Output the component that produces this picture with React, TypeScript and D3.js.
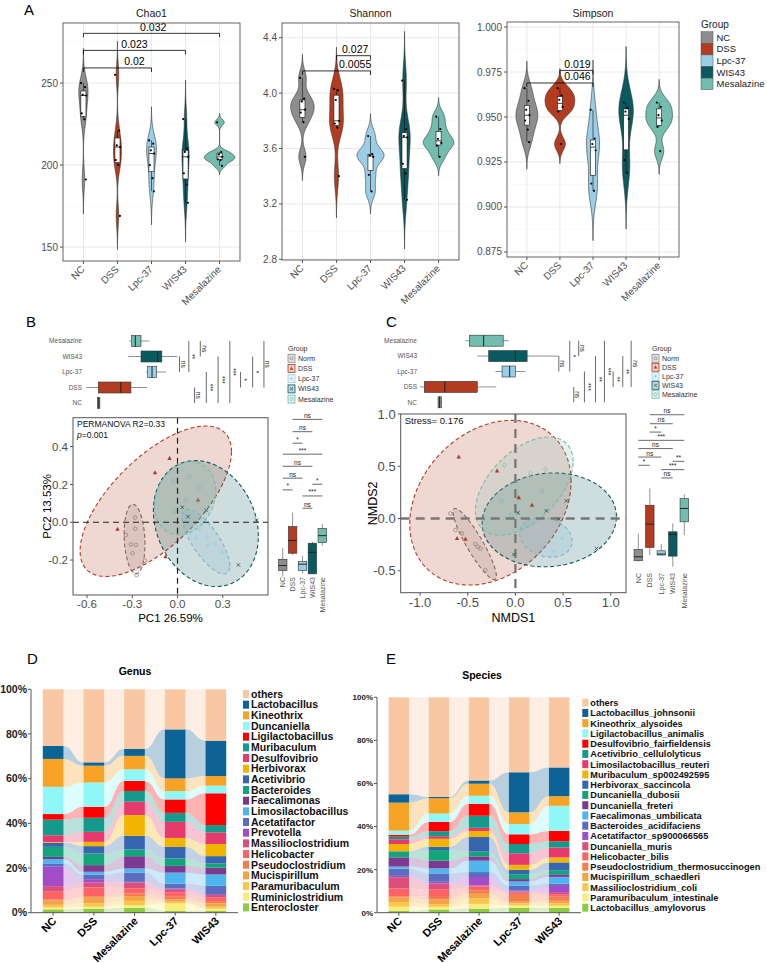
import React, { useEffect, useRef } from 'react';
import * as d3 from 'd3';

const WIDTH = 767;
const HEIGHT = 963;
const FONT = "'Liberation Sans', Arial, Helvetica, sans-serif";

const groups = ['NC', 'DSS', 'Lpc-37', 'WIS43', 'Mesalazine'];
const groupColors = ['#8d8d8d', '#b33c20', '#9bcde6', '#0a5b61', '#72bdaf'];
const legendNames = ['Norm', 'DSS', 'Lpc-37', 'WIS43', 'Mesalazine'];
const groupShapes = ['circle', 'triangle', 'plus', 'cross', 'diamond'];

// ---- alpha diversity, one value per mouse ----
const chao1Values = [
  [250, 247.5, 242.8, 242.4, 231.5, 227.9, 191.2],
  [255, 221, 212, 211, 203, 200, 169],
  [215, 213, 209, 207, 200, 192, 184],
  [228, 210, 208, 205, 195, 188, 177],
  [226, 208, 206.5, 205, 203.5, 203, 199.5],
];
const shannonValues = [
  [4.11, 3.96, 3.94, 3.88, 3.86, 3.79, 3.54],
  [4.03, 4.02, 3.95, 3.8, 3.78, 3.75, 3.4],
  [3.69, 3.56, 3.55, 3.54, 3.41, 3.29],
  [4.09, 3.74, 3.69, 3.68, 3.49, 3.42, 3.23],
  [3.83, 3.74, 3.67, 3.64, 3.62, 3.54],
];
const simpsonValues = [
  [0.966, 0.959, 0.954, 0.951, 0.948, 0.943, 0.936],
  [0.966, 0.962, 0.9596, 0.9556, 0.953, 0.935],
  [0.954, 0.938, 0.935, 0.9315, 0.913, 0.909],
  [0.958, 0.955, 0.953, 0.949, 0.926, 0.919],
  [0.958, 0.9557, 0.951, 0.948, 0.9445, 0.931],
];

// wilcoxon p-values; `at` = label centre in group units
const chao1Tests = [
  { from: 0, to: 2, y: 259.2, p: '0.02', at: 1.5 },
  { from: 0, to: 3, y: 269.9, p: '0.023', at: 1.5 },
  { from: 0, to: 4, y: 280.3, p: '0.032', at: 2.05 },
];
const shannonTests = [
  { from: 0, to: 2, y: 4.16, p: '0.0055', at: 1.55 },
  { from: 1, to: 2, y: 4.27, p: '0.027', at: 1.55 },
];
const simpsonTests = [
  { from: 0, to: 2, y: 0.9689, p: '0.046', at: 1.53 },
  { from: 1, to: 2, y: 0.9759, p: '0.019', at: 1.53 },
];

// ---- beta diversity ----
const pcoaPoints = [
  [[-0.282, 0.025], [-0.28, -0.035], [-0.342, -0.067], [-0.309, -0.117], [-0.276, -0.12], [-0.298, -0.164], [-0.216, -0.203], [-0.271, -0.28]],
  [[-0.053, 0.338], [-0.149, 0.262], [-0.398, -0.037], [0.136, 0.118], [-0.08, -0.182]],
  [[0.147, -0.04], [0.196, -0.08], [0.247, -0.115], [0.202, -0.12], [0.298, -0.16], [0.124, -0.085]],
  [[0.191, 0.062], [0.404, -0.226], [0.031, 0.079], [0.069, 0.03], [0.524, 0.012]],
  [[-0.031, 0.215], [0.08, 0.241], [0.147, 0.183], [0.058, 0.118], [-0.02, 0.056], [0.136, 0.109]],
];
// [cx, cy, half-width x, half-width y, correlation]
const pcoaEllipses = [
  [-0.285, -0.089, 0.069, 0.184, -0.15],
  [-0.144, 0.111, 0.502, 0.398, 0.66],
  [0.189, -0.103, 0.158, 0.171, -0.75],
  [0.188, -0.007, 0.348, 0.333, -0.2],
  [0.05, 0.127, 0.203, 0.194, 0.2],
];
// [min, q1, median, q3, max]
const pcoaPC1Box = [
  [-0.533, -0.531, -0.522, -0.515, -0.513],
  [-0.605, -0.525, -0.376, -0.309, -0.202],
  [-0.209, -0.198, -0.169, -0.138, -0.076],
  [-0.327, -0.242, -0.131, -0.104, 0.0],
  [-0.32, -0.304, -0.28, -0.242, -0.187],
];
const pcoaPC2Box = [
  [-0.288, -0.256, -0.229, -0.196, -0.138],
  [-0.173, -0.164, -0.097, -0.023, 0.051],
  [-0.27, -0.256, -0.222, -0.208, -0.178],
  [-0.273, -0.273, -0.159, -0.111, -0.102],
  [-0.125, -0.108, -0.071, -0.032, -0.009],
];
// [group a, group b, position on the score axis, label]
const pcoaPC1Tests: [number, number, number, string][] = [
  [3, 2, 0.013, 'ns'], [4, 2, 0.075, '**'], [1, 0, 0.113, 'ns'], [4, 3, 0.151, 'ns'], [2, 0, 0.191, '***'],
  [3, 0, 0.269, '***'], [4, 0, 0.347, '***'], [2, 1, 0.418, '*'], [3, 1, 0.498, '*'], [4, 1, 0.573, 'ns'],
];
const pcoaPC2Tests: [number, number, number, string][] = [
  [1, 4, 0.544, 'ns'], [1, 3, 0.479, 'ns'], [1, 2, 0.418, '*'], [0, 4, 0.36, '***'], [0, 3, 0.296, 'ns'],
  [0, 2, 0.233, 'ns'], [0, 1, 0.171, '*'], [3, 4, 0.201, '*'], [2, 4, 0.139, '***'], [2, 3, 0.074, 'ns'],
];

const nmdsPoints = [
  [[-0.682, 0.048], [-0.629, -0.111], [-0.559, -0.143], [-0.42, -0.245], [-0.395, -0.271], [-0.367, -0.287], [-0.315, -0.494]],
  [[-0.594, 0.589], [-0.192, 0.455], [0.035, 0.2], [0.175, 0.127], [-0.612, -0.191], [-0.524, -0.197]],
  [[0.227, -0.08], [0.35, -0.127], [0.49, -0.191], [0.185, -0.2], [0.297, -0.207], [0.402, -0.318]],
  [[0.535, 0.169], [0.325, 0.073], [0.028, 0.054], [0.455, -0.006], [0.85, -0.287], [-0.017, -0.344]],
  [[-0.115, 0.51], [0.157, 0.43], [0.315, 0.471], [0.28, 0.264], [-0.147, 0.169], [-0.045, 0.032]],
];
const nmdsEllipses = [
  [-0.427, -0.244, 0.227, 0.34, -0.9],
  [-0.262, 0.151, 0.846, 0.788, 0.26],
  [0.32, -0.18, 0.275, 0.19, -0.2],
  [0.355, -0.013, 0.705, 0.449, 0.07],
  [0.093, 0.31, 0.512, 0.47, 0.5],
];
const nmds1Box = [
  [-0.815, -0.811, -0.795, -0.777, -0.773],
  [-1.0, -0.955, -0.74, -0.4, -0.2],
  [-0.21, -0.14, -0.06, 0.0, 0.105],
  [-0.4, -0.28, 0.0, 0.123, 0.455],
  [-0.525, -0.483, -0.333, -0.128, -0.07],
];
const nmds2Box = [
  [-0.414, -0.404, -0.366, -0.296, -0.143],
  [-0.35, -0.277, -0.054, 0.127, 0.287],
  [-0.35, -0.35, -0.34, -0.309, -0.245],
  [-0.462, -0.36, -0.15, -0.127, -0.048],
  [-0.159, -0.032, 0.096, 0.191, 0.232],
];
const nmds1Tests: [number, number, number, string][] = [
  [3, 2, 0.455, 'ns'], [4, 2, 0.57, '*'], [1, 0, 0.612, 'ns'], [4, 3, 0.664, 'ns'], [2, 0, 0.724, '***'],
  [3, 0, 0.84, '**'], [4, 0, 0.934, '***'], [2, 1, 1.025, '**'], [3, 1, 1.126, '**'], [4, 1, 1.214, 'ns'],
];
const nmds2Tests: [number, number, number, string][] = [
  [1, 4, 0.993, 'ns'], [1, 3, 0.907, 'ns'], [1, 2, 0.827, '*'], [0, 4, 0.748, '***'], [0, 3, 0.669, 'ns'],
  [0, 2, 0.588, 'ns'], [0, 1, 0.509, '*'], [3, 4, 0.547, '**'], [2, 4, 0.468, '***'], [2, 3, 0.388, 'ns'],
];

// ---- relative abundance (%), listed top of stack first ----
const samples = ['NC', 'DSS', 'Mesalazine', 'Lpc-37', 'WIS43'];
const taxaColors = [
  '#f9c7a1', '#0c6396', '#f7a325', '#8ff7f7', '#fe0000', '#14998b', '#e63a6c', '#f1b400', '#3766b0', '#14a479',
  '#7b3a8f', '#4eb5ef', '#5b6dbf', '#a24cc8', '#dc4f7b', '#fe6363', '#f27e4b', '#f4a445', '#f8c64a', '#fcec7a', '#8ccb45',
];
const genusTaxa = [
  'others', 'Lactobacillus', 'Kineothrix', 'Duncaniella', 'Ligilactobacillus', 'Muribaculum', 'Desulfovibrio',
  'Herbivorax', 'Acetivibrio', 'Bacteroides', 'Faecalimonas', 'Limosilactobacillus', 'Acetatifactor', 'Prevotella',
  'Massilioclostridium', 'Helicobacter', 'Pseudoclostridium', 'Mucispirillum', 'Paramuribaculum', 'Ruminiclostridium',
  'Enterocloster',
];
const genusNC = [25.4, 5.8, 12.5, 12.2, 2.5, 7.0, 3.0, 0.3, 1.9, 4.5, 1.0, 1.9, 1.5, 8.7, 2.5, 3.4, 0.6, 1.9, 1.2, 0.8, 1.5];
const genusDSS = [32.7, 1.5, 7.5, 10.9, 4.9, 6.3, 4.5, 1.9, 3.3, 5.2, 3.0, 1.2, 2.1, 1.5, 2.2, 3.9, 0.7, 2.5, 1.5, 0.9, 1.8];
const genusMesalazine = [26.7, 3.1, 6.0, 5.2, 4.5, 4.8, 6.0, 9.3, 6.1, 3.0, 5.5, 1.8, 4.2, 0.3, 2.7, 2.2, 1.2, 2.1, 1.9, 1.2, 2.2];
const genusLpc37 = [17.9, 21.9, 5.7, 3.7, 6.0, 4.0, 7.2, 4.0, 5.2, 3.3, 3.0, 4.9, 2.2, 0.3, 1.5, 1.9, 1.2, 1.0, 0.7, 3.3, 0.9];
const genusWIS43 = [23.0, 15.8, 4.3, 3.4, 14.2, 3.3, 5.2, 5.4, 3.3, 1.9, 3.0, 5.1, 3.7, 0.4, 1.2, 1.5, 1.0, 1.5, 0.9, 0.9, 0.9];

const speciesTaxa = [
  'others', 'Lactobacillus_johnsonii', 'Kineothrix_alysoides', 'Ligilactobacillus_animalis',
  'Desulfovibrio_fairfieldensis', 'Acetivibrio_cellulolyticus', 'Limosilactobacillus_reuteri',
  'Muribaculum_sp002492595', 'Herbivorax_saccincola', 'Duncaniella_dubosii', 'Duncaniella_freteri',
  'Faecalimonas_umbilicata', 'Bacteroides_acidifaciens', 'Acetatifactor_sp900066565', 'Duncaniella_muris',
  'Helicobacter_bilis', 'Pseudoclostridium_thermosuccinogen', 'Mucispirillum_schaedleri',
  'Massilioclostridium_coli', 'Paramuribaculum_intestinale', 'Lactobacillus_amylovorus',
];
const speciesNC = [45.0, 3.9, 13.0, 1.9, 0.9, 1.2, 2.2, 3.4, 0.3, 2.5, 4.3, 0.9, 3.4, 0.6, 5.3, 3.7, 0.3, 2.2, 2.2, 1.9, 0.9];
const speciesDSS = [46.1, 0.6, 7.1, 3.9, 4.3, 2.3, 1.2, 3.7, 1.5, 4.9, 3.6, 2.3, 3.9, 0.8, 2.8, 3.4, 1.2, 2.2, 1.2, 1.2, 1.5];
const speciesMesalazine = [38.7, 1.5, 5.6, 3.7, 5.6, 5.6, 1.5, 2.8, 6.8, 2.2, 2.0, 5.3, 2.3, 3.9, 0.5, 1.9, 1.5, 2.2, 2.5, 2.2, 1.9];
const speciesLpc37 = [34.8, 18.6, 5.4, 4.8, 4.5, 4.3, 5.4, 2.3, 2.0, 2.3, 1.1, 2.0, 2.2, 0.5, 0.5, 0.6, 3.6, 0.8, 0.9, 1.1, 2.3];
const speciesWIS43 = [32.5, 13.3, 4.5, 11.6, 4.8, 2.9, 4.6, 2.3, 3.6, 1.9, 1.2, 3.1, 1.1, 3.2, 0.6, 1.2, 1.9, 1.2, 1.1, 0.9, 2.3];

// horizontal spread of the dots inside each violin (fraction of a group step)
const jitter = [-0.07, 0.05, -0.02, 0.08, -0.05, 0.03, 0.07, -0.08];

type Sel = d3.Selection<any, any, any, any>;

function text(g: Sel, x: number, y: number, s: string, size: number, o: any = {}) {
  const t = g.append('text')
    .attr('x', x).attr('y', y)
    .attr('font-size', size)
    .attr('font-family', FONT)
    .attr('fill', o.fill || '#000')
    .attr('text-anchor', o.anchor || 'start')
    .text(s);
  if (o.weight) t.attr('font-weight', o.weight);
  if (o.rotate) t.attr('transform', `rotate(${o.rotate},${x},${y})`);
  return t;
}

const fmtNum = (digits: number) => (v: number) => d3.format(`.${digits}f`)(v).replace('−', '-');

// gaussian kernel density, bw.nrd0, tails extended by 3 bandwidths
function density(values: number[]) {
  const s = values.slice().sort(d3.ascending);
  const n = s.length;
  const sd = d3.deviation(s) || 1;
  const iqr = (d3.quantileSorted(s, 0.75) as number) - (d3.quantileSorted(s, 0.25) as number);
  const lo = Math.min(sd, iqr / 1.34) || sd;
  const bw = 0.9 * lo * Math.pow(n, -0.2);
  const a = s[0] - 3 * bw;
  const b = s[n - 1] + 3 * bw;
  return d3.range(0, 201).map((i) => {
    const v = a + ((b - a) * i) / 200;
    const d = d3.mean(s, (p) => Math.exp(-0.5 * ((v - p) / bw) ** 2)) as number;
    return [v, d / (bw * Math.sqrt(2 * Math.PI))] as [number, number];
  });
}

function drawAlpha(root: Sel, p: any) {
  const [l, r, t, b] = p.box;
  const g = root.append('g');
  const x = d3.scalePoint<string>().domain(groups).range([l, r]).padding(0.6);
  const step = x.step();
  const gx = d3.scaleLinear().domain([0, groups.length - 1]).range([x(groups[0]) as number, x(groups[groups.length - 1]) as number]);
  const y = d3.scaleLinear().domain(p.domain).range([b, t]);
  const fmt = fmtNum(p.digits);

  p.minor.forEach((v: number) => {
    g.append('line').attr('x1', l).attr('x2', r).attr('y1', y(v)).attr('y2', y(v)).attr('stroke', '#f2f2f2').attr('stroke-width', 0.5);
  });
  p.ticks.forEach((v: number) => {
    g.append('line').attr('x1', l).attr('x2', r).attr('y1', y(v)).attr('y2', y(v)).attr('stroke', '#e6e6e6').attr('stroke-width', 0.9);
    g.append('line').attr('x1', l - 3).attr('x2', l).attr('y1', y(v)).attr('y2', y(v)).attr('stroke', '#555');
    text(g, l - 5, y(v) + 3.5, fmt(v), 10, { anchor: 'end', fill: '#4d4d4d' });
  });
  groups.forEach((gr) => {
    const cx = x(gr) as number;
    g.append('line').attr('x1', cx).attr('x2', cx).attr('y1', t).attr('y2', b).attr('stroke', '#e6e6e6').attr('stroke-width', 0.9);
    g.append('line').attr('x1', cx).attr('x2', cx).attr('y1', b).attr('y2', b + 3).attr('stroke', '#555');
    text(g, cx + 2, b + 9, gr, 10, { anchor: 'end', fill: '#4d4d4d', rotate: -45 });
  });

  const dens = p.values.map(density);
  const maxD = d3.max(dens, (d: [number, number][]) => d3.max(d, (e) => e[1])) as number;
  const half = d3.scaleLinear().domain([0, maxD]).range([0, step * 0.45]);

  dens.forEach((d: [number, number][], i: number) => {
    const cx = x(groups[i]) as number;
    const area = d3.area<[number, number]>()
      .y((e) => y(e[0]))
      .x0((e) => cx - half(e[1]))
      .x1((e) => cx + half(e[1]));
    g.append('path').attr('d', area(d) as string).attr('fill', groupColors[i]).attr('stroke', '#333').attr('stroke-width', 0.6);

    const s = p.values[i].slice().sort(d3.ascending);
    const q1 = d3.quantileSorted(s, 0.25) as number;
    const med = d3.quantileSorted(s, 0.5) as number;
    const q3 = d3.quantileSorted(s, 0.75) as number;
    const iqr = q3 - q1;
    const wLo = d3.min(s.filter((v: number) => v >= q1 - 1.5 * iqr)) as number;
    const wHi = d3.max(s.filter((v: number) => v <= q3 + 1.5 * iqr)) as number;
    const bw = step * 0.15;
    g.append('line').attr('x1', cx).attr('x2', cx).attr('y1', y(wLo)).attr('y2', y(q1)).attr('stroke', '#111').attr('stroke-width', 0.6);
    g.append('line').attr('x1', cx).attr('x2', cx).attr('y1', y(q3)).attr('y2', y(wHi)).attr('stroke', '#111').attr('stroke-width', 0.6);
    g.append('rect').attr('x', cx - bw / 2).attr('y', y(q3)).attr('width', bw).attr('height', y(q1) - y(q3))
      .attr('fill', '#fff').attr('stroke', '#111').attr('stroke-width', 0.6);
    g.append('line').attr('x1', cx - bw / 2).attr('x2', cx + bw / 2).attr('y1', y(med)).attr('y2', y(med)).attr('stroke', '#111').attr('stroke-width', 0.8);

    p.values[i].forEach((v: number, j: number) => {
      g.append('circle').attr('cx', cx + jitter[j % jitter.length] * step).attr('cy', y(v)).attr('r', 1.1).attr('fill', '#000');
    });
  });

  p.tests.forEach((tst: any) => {
    const x1 = gx(tst.from);
    const x2 = gx(tst.to);
    const yy = y(tst.y);
    g.append('path').attr('d', `M${x1},${yy + 4}V${yy}H${x2}V${yy + 4}`).attr('fill', 'none').attr('stroke', '#000').attr('stroke-width', 0.8);
    text(g, gx(tst.at), yy - 2.5, tst.p, 10.5, { anchor: 'middle' });
  });

  g.append('rect').attr('x', l).attr('y', t).attr('width', r - l).attr('height', b - t)
    .attr('fill', 'none').attr('stroke', '#555').attr('stroke-width', 0.9);
  text(g, (l + r) / 2, 17, p.title, 10.5, { anchor: 'middle', fill: '#1a1a1a' });
}

function drawShape(g: Sel, kind: string, cx: number, cy: number, color: string, k = 1) {
  const s = 2.2 * k;
  if (kind === 'circle') {
    g.append('circle').attr('cx', cx).attr('cy', cy).attr('r', 1.8 * k).attr('fill', 'none').attr('stroke', color).attr('stroke-width', 0.7);
  } else if (kind === 'triangle') {
    g.append('path').attr('d', `M${cx},${cy - 2.5 * k}L${cx + 2.2 * k},${cy + 1.6 * k}L${cx - 2.2 * k},${cy + 1.6 * k}Z`).attr('fill', color);
  } else if (kind === 'plus') {
    g.append('path').attr('d', `M${cx - s},${cy}H${cx + s}M${cx},${cy - s}V${cy + s}`).attr('stroke', color).attr('stroke-width', 0.8);
  } else if (kind === 'cross') {
    const c = s * 0.8;
    g.append('path').attr('d', `M${cx - c},${cy - c}L${cx + c},${cy + c}M${cx - c},${cy + c}L${cx + c},${cy - c}`).attr('stroke', color).attr('stroke-width', 0.8);
  } else {
    g.append('path').attr('d', `M${cx},${cy - 2.4 * k}L${cx + 2 * k},${cy}L${cx},${cy + 2.4 * k}L${cx - 2 * k},${cy}Z`)
      .attr('fill', 'none').attr('stroke', color).attr('stroke-width', 0.7);
  }
}

function drawOrdination(root: Sel, o: any) {
  const [l, r, t, b] = o.box;
  const g = root.append('g');
  const x = d3.scaleLinear().domain(o.xDomain).range([l, r]);
  const y = d3.scaleLinear().domain(o.yDomain).range([b, t]);
  const fmt = fmtNum(1);
  const clipId = `clip-${o.id}`;
  g.append('clipPath').attr('id', clipId).append('rect').attr('x', l).attr('y', t).attr('width', r - l).attr('height', b - t);
  const plot = g.append('g').attr('clip-path', `url(#${clipId})`);
  const line = d3.line<number[]>().x((d) => x(d[0])).y((d) => y(d[1]));

  o.ellipses.forEach((e: number[], i: number) => {
    const pts = d3.range(0, 121).map((k) => {
      const a = (k / 120) * Math.PI * 2;
      return [e[0] + e[2] * Math.cos(a), e[1] + e[3] * (e[4] * Math.cos(a) + Math.sqrt(1 - e[4] * e[4]) * Math.sin(a))];
    });
    plot.append('path').attr('d', line(pts) + 'Z')
      .attr('fill', groupColors[i]).attr('fill-opacity', 0.2)
      .attr('stroke', i === 0 ? '#7d6e6a' : groupColors[i]).attr('stroke-width', 1.1).attr('stroke-dasharray', '4,2.6');
  });

  plot.append('line').attr('x1', x(0)).attr('x2', x(0)).attr('y1', t).attr('y2', b)
    .attr('stroke', o.zeroColor).attr('stroke-width', o.zeroWidth).attr('stroke-dasharray', o.zeroDash);
  plot.append('line').attr('x1', l).attr('x2', r).attr('y1', y(0)).attr('y2', y(0))
    .attr('stroke', o.zeroColor).attr('stroke-width', o.zeroWidth).attr('stroke-dasharray', o.zeroDash);

  o.points.forEach((pts: number[][], i: number) => {
    pts.forEach((pt) => drawShape(plot, groupShapes[i], x(pt[0]), y(pt[1]), i === 0 ? '#8a7a76' : groupColors[i]));
  });

  g.append('rect').attr('x', l).attr('y', t).attr('width', r - l).attr('height', b - t)
    .attr('fill', 'none').attr('stroke', '#555').attr('stroke-width', 1);
  o.xTicks.forEach((v: number) => {
    g.append('line').attr('x1', x(v)).attr('x2', x(v)).attr('y1', b).attr('y2', b + 3).attr('stroke', '#555');
    text(g, x(v), b + o.tickFont + 1, fmt(v), o.tickFont, { anchor: 'middle', fill: '#4d4d4d' });
  });
  o.yTicks.forEach((v: number) => {
    g.append('line').attr('x1', l - 3).attr('x2', l).attr('y1', y(v)).attr('y2', y(v)).attr('stroke', '#555');
    text(g, l - 5, y(v) + o.tickFont * 0.36, fmt(v), o.tickFont, { anchor: 'end', fill: '#4d4d4d' });
  });
  text(g, (l + r) / 2, o.xTitleY, o.xTitle, o.titleFont, { anchor: 'middle' });
  text(g, o.yTitleX, (t + b) / 2, o.yTitle, o.titleFont, { anchor: 'middle', rotate: -90 });

  o.notes.forEach((nt: any) => {
    const tt = text(g, l + 4, nt.y, '', nt.size, { fill: '#111' });
    if (nt.italic) {
      tt.append('tspan').attr('font-style', 'italic').text(nt.italic);
    }
    tt.append('tspan').text(nt.text);
  });

  // marginal boxes along axis 1
  const row = d3.scalePoint<string>().domain(groups.slice().reverse()).range(o.rows);
  o.topBox.forEach((bx: number[], i: number) => {
    const cy = row(groups[i]) as number;
    const h = 11;
    g.append('line').attr('x1', x(bx[0])).attr('x2', x(bx[4])).attr('y1', cy).attr('y2', cy).attr('stroke', '#666').attr('stroke-width', 0.7);
    g.append('rect').attr('x', x(bx[1])).attr('y', cy - h / 2).attr('width', Math.max(x(bx[3]) - x(bx[1]), 1.5)).attr('height', h)
      .attr('fill', groupColors[i]).attr('stroke', '#333').attr('stroke-width', 0.6);
    g.append('line').attr('x1', x(bx[2])).attr('x2', x(bx[2])).attr('y1', cy - h / 2).attr('y2', cy + h / 2).attr('stroke', '#222').attr('stroke-width', 1);
    text(g, o.rowLabelX, cy + 2.3, groups[i], 6.5, { anchor: 'end', fill: '#555' });
  });
  o.topTests.forEach((ts: [number, number, number, string]) => {
    const xx = x(ts[2]);
    const y1 = row(groups[ts[0]]) as number;
    const y2 = row(groups[ts[1]]) as number;
    g.append('line').attr('x1', xx).attr('x2', xx).attr('y1', y1).attr('y2', y2).attr('stroke', '#444').attr('stroke-width', 0.8);
    text(g, xx + 1.5, (y1 + y2) / 2, ts[3], 6.5, { anchor: 'middle', fill: '#222', rotate: 90 });
  });

  // marginal boxes along axis 2
  const col = d3.scalePoint<string>().domain(groups).range(o.cols);
  o.sideBox.forEach((bx: number[], i: number) => {
    const cx = col(groups[i]) as number;
    const w = 8.5;
    g.append('line').attr('x1', cx).attr('x2', cx).attr('y1', y(bx[0])).attr('y2', y(bx[4])).attr('stroke', '#666').attr('stroke-width', 0.7);
    g.append('rect').attr('x', cx - w / 2).attr('y', y(bx[3])).attr('width', w).attr('height', Math.max(y(bx[1]) - y(bx[3]), 1.5))
      .attr('fill', groupColors[i]).attr('stroke', '#333').attr('stroke-width', 0.6);
    g.append('line').attr('x1', cx - w / 2).attr('x2', cx + w / 2).attr('y1', y(bx[2])).attr('y2', y(bx[2])).attr('stroke', '#222').attr('stroke-width', 1);
    text(g, cx + 2.5, o.sideLabelY, groups[i], 7, { anchor: 'end', fill: '#555', rotate: -90 });
  });
  o.sideTests.forEach((ts: [number, number, number, string]) => {
    const yy = y(ts[2]);
    const x1 = col(groups[ts[0]]) as number;
    const x2 = col(groups[ts[1]]) as number;
    g.append('line').attr('x1', x1).attr('x2', x2).attr('y1', yy).attr('y2', yy).attr('stroke', '#444').attr('stroke-width', 0.8);
    text(g, (x1 + x2) / 2, yy - 1.5, ts[3], 6.5, { anchor: 'middle', fill: '#222' });
  });

  // legend
  const lg = o.legend;
  text(g, lg.x, lg.y, 'Group', 7, { fill: '#333' });
  legendNames.forEach((nm, i) => {
    const cy = lg.first + i * lg.step;
    g.append('rect').attr('x', lg.x).attr('y', cy - 4).attr('width', 7).attr('height', 8)
      .attr('fill', groupColors[i]).attr('fill-opacity', 0.25).attr('stroke', groupColors[i]).attr('stroke-width', 0.8);
    drawShape(g, groupShapes[i], lg.x + 3.5, cy, i === 0 ? '#8a7a76' : groupColors[i], 0.8);
    text(g, lg.x + 10, cy + 2.5, nm, 7, { fill: '#333' });
  });
}

function drawComposition(root: Sel, c: any) {
  const g = root.append('g');
  const x = d3.scaleBand<string>().domain(samples).range(c.xRange).paddingInner(0.49).paddingOuter(0.29);
  const y = d3.scaleLinear().domain([0, 1]).range([c.y0, c.y1]);
  const bw = x.bandwidth();
  const keys = c.taxa.slice().reverse();
  const rows = samples.map((s, i) => {
    const row: any = { sample: s };
    c.taxa.forEach((tx: string, k: number) => { row[tx] = c.values[i][k]; });
    return row;
  });
  const series = d3.stack<any>().keys(keys).offset(d3.stackOffsetExpand)(rows);
  const colorOf = (key: string) => c.colors[c.taxa.indexOf(key)];

  // flows between neighbouring bars
  series.forEach((sr) => {
    for (let i = 0; i < samples.length - 1; i++) {
      const x0 = (x(samples[i]) as number) + bw;
      const x1 = x(samples[i + 1]) as number;
      const xm = (x0 + x1) / 2;
      const a = sr[i];
      const b = sr[i + 1];
      const p = d3.path();
      p.moveTo(x0, y(a[1]));
      p.bezierCurveTo(xm, y(a[1]), xm, y(b[1]), x1, y(b[1]));
      p.lineTo(x1, y(b[0]));
      p.bezierCurveTo(xm, y(b[0]), xm, y(a[0]), x0, y(a[0]));
      p.closePath();
      g.append('path').attr('d', p.toString()).attr('fill', colorOf(sr.key)).attr('fill-opacity', 0.3);
    }
  });
  series.forEach((sr) => {
    sr.forEach((d, i) => {
      g.append('rect').attr('x', x(samples[i]) as number).attr('y', y(d[1])).attr('width', bw)
        .attr('height', Math.max(0, y(d[0]) - y(d[1]))).attr('fill', colorOf(sr.key));
    });
  });

  const ax = c.xRange[0];
  g.append('line').attr('x1', ax).attr('x2', ax).attr('y1', y(0)).attr('y2', y(1)).attr('stroke', '#555').attr('stroke-width', 1);
  g.append('line').attr('x1', ax).attr('x2', c.xRange[1]).attr('y1', y(0)).attr('y2', y(0)).attr('stroke', '#555').attr('stroke-width', 1);
  [0, 0.2, 0.4, 0.6, 0.8, 1].forEach((v) => {
    g.append('line').attr('x1', ax - 3).attr('x2', ax).attr('y1', y(v)).attr('y2', y(v)).attr('stroke', '#555');
    text(g, ax - 4, y(v) + c.tickFont * 0.36, d3.format('.0%')(v), c.tickFont, { anchor: 'end', weight: 'bold', fill: '#222' });
  });
  samples.forEach((s) => {
    const cx = (x(s) as number) + bw / 2;
    g.append('line').attr('x1', cx).attr('x2', cx).attr('y1', y(0)).attr('y2', y(0) + 3).attr('stroke', '#555');
    text(g, cx + 4, y(0) + 9, s, 11, { anchor: 'end', weight: 'bold', rotate: -45 });
  });
  text(g, c.titleX, c.titleY, c.title, 10.5, { anchor: 'middle', weight: 'bold' });

  const lg = c.legend;
  c.taxa.forEach((tx: string, k: number) => {
    const cy = lg.y + k * lg.step;
    g.append('rect').attr('x', lg.x).attr('y', cy - 4).attr('width', 6).attr('height', 8).attr('fill', c.colors[k]);
    text(g, lg.x + 8, cy + lg.font * 0.36, tx, lg.font, { weight: 'bold', fill: '#111' });
  });
}

const alphaPanels = [
  { title: 'Chao1', values: chao1Values, tests: chao1Tests, domain: [141.5, 286.6], ticks: [150, 200, 250], minor: [175, 225, 275], digits: 0, box: [63, 240, 23, 261] },
  { title: 'Shannon', values: shannonValues, tests: shannonTests, domain: [2.795, 4.506], ticks: [2.8, 3.2, 3.6, 4.0, 4.4], minor: [3.0, 3.4, 3.8, 4.2], digits: 1, box: [282, 459, 23, 260] },
  { title: 'Simpson', values: simpsonValues, tests: simpsonTests, domain: [0.8722, 1.0028], ticks: [0.875, 0.9, 0.925, 0.95, 0.975, 1.0], minor: [0.8875, 0.9125, 0.9375, 0.9625, 0.9875], digits: 3, box: [507, 679, 22, 257] },
];

const pcoaPanel = {
  id: 'pcoa', box: [73, 268, 417.7, 595], xDomain: [-0.693, 0.6], yDomain: [-0.385, 0.553],
  xTicks: [-0.6, -0.3, 0, 0.3], yTicks: [-0.2, 0, 0.2, 0.4], tickFont: 11.5, titleFont: 11.5,
  xTitle: 'PC1 26.59%', yTitle: 'PC2 13.53%', xTitleY: 622, yTitleX: 51,
  zeroColor: '#222', zeroWidth: 1.2, zeroDash: '6,4',
  points: pcoaPoints, ellipses: pcoaEllipses,
  notes: [{ y: 427, size: 8.5, text: 'PERMANOVA R2=0.33' }, { y: 438, size: 8.5, italic: 'p', text: '=0.001' }],
  rows: [341, 403], rowLabelX: 82, topBox: pcoaPC1Box, topTests: pcoaPC1Tests,
  cols: [282.7, 322.3], sideBox: pcoaPC2Box, sideTests: pcoaPC2Tests, sideLabelY: 577,
  legend: { x: 288, y: 351, first: 358.3, step: 10.2 },
};

const nmdsPanel = {
  id: 'nmds', box: [400.7, 626, 414, 592.7], xDomain: [-1.203, 1.16], yDomain: [-0.71, 1.0],
  xTicks: [-1, -0.5, 0, 0.5, 1], yTicks: [-0.5, 0, 0.5, 1], tickFont: 13, titleFont: 12.5,
  xTitle: 'NMDS1', yTitle: 'NMDS2', xTitleY: 622, yTitleX: 377,
  zeroColor: '#777', zeroWidth: 2.3, zeroDash: '9,6',
  points: nmdsPoints, ellipses: nmdsEllipses,
  notes: [{ y: 423.5, size: 9.5, text: 'Stress= 0.176' }],
  rows: [340.7, 402.3], rowLabelX: 417, topBox: nmds1Box, topTests: nmds1Tests,
  cols: [638.3, 684.3], sideBox: nmds2Box, sideTests: nmds2Tests, sideLabelY: 573,
  legend: { x: 652, y: 351, first: 358.3, step: 9 },
};

const genusPanel = {
  title: 'Genus', titleX: 135, titleY: 675, taxa: genusTaxa, colors: taxaColors,
  values: [genusNC, genusDSS, genusMesalazine, genusLpc37, genusWIS43],
  xRange: [31, 238], y0: 912.7, y1: 689.3, tickFont: 10.5,
  legend: { x: 243, y: 694, step: 10.67, font: 10.5 },
};
const speciesPanel = {
  title: 'Species', titleX: 482, titleY: 679, taxa: speciesTaxa, colors: taxaColors,
  values: [speciesNC, speciesDSS, speciesMesalazine, speciesLpc37, speciesWIS43],
  xRange: [377, 581], y0: 912.7, y1: 697.3, tickFont: 8,
  legend: { x: 582.3, y: 702.7, step: 10.25, font: 9.2 },
};

const App: React.FC = () => {
  const svgRef = useRef<SVGSVGElement | null>(null);

  useEffect(() => {
    document.body.style.margin = '0';
    if (!svgRef.current) return;
    const svg = d3.select(svgRef.current);
    svg.selectAll('*').remove();
    svg.append('rect').attr('width', WIDTH).attr('height', HEIGHT).attr('fill', '#fff');

    alphaPanels.forEach((p) => drawAlpha(svg, p));

    // group legend for the violins
    const lg = svg.append('g');
    text(lg, 701, 28, 'Group', 10, { fill: '#1a1a1a' });
    groups.forEach((gr, i) => {
      const top = 31.7 + i * 11.6;
      lg.append('rect').attr('x', 701).attr('y', top).attr('width', 12).attr('height', 11.6)
        .attr('fill', groupColors[i]).attr('stroke', '#555').attr('stroke-width', 0.5);
      text(lg, 716.5, top + 9, gr, 9.5, { fill: '#1a1a1a' });
    });

    drawOrdination(svg, pcoaPanel);
    drawOrdination(svg, nmdsPanel);
    drawComposition(svg, genusPanel);
    drawComposition(svg, speciesPanel);

    const letters: [string, number, number][] = [['A', 24, 15], ['B', 26, 327], ['C', 386, 327], ['D', 27, 664], ['E', 386, 664]];
    letters.forEach(([s, lx, ly]) => text(svg, lx, ly, s, 15, { fill: '#000' }));

    return () => {
      if (svgRef.current) svgRef.current.innerHTML = '';
    };
  }, []);

  return <svg ref={svgRef} width={WIDTH} height={HEIGHT} style={{ display: 'block' }} />;
};

export default App;
